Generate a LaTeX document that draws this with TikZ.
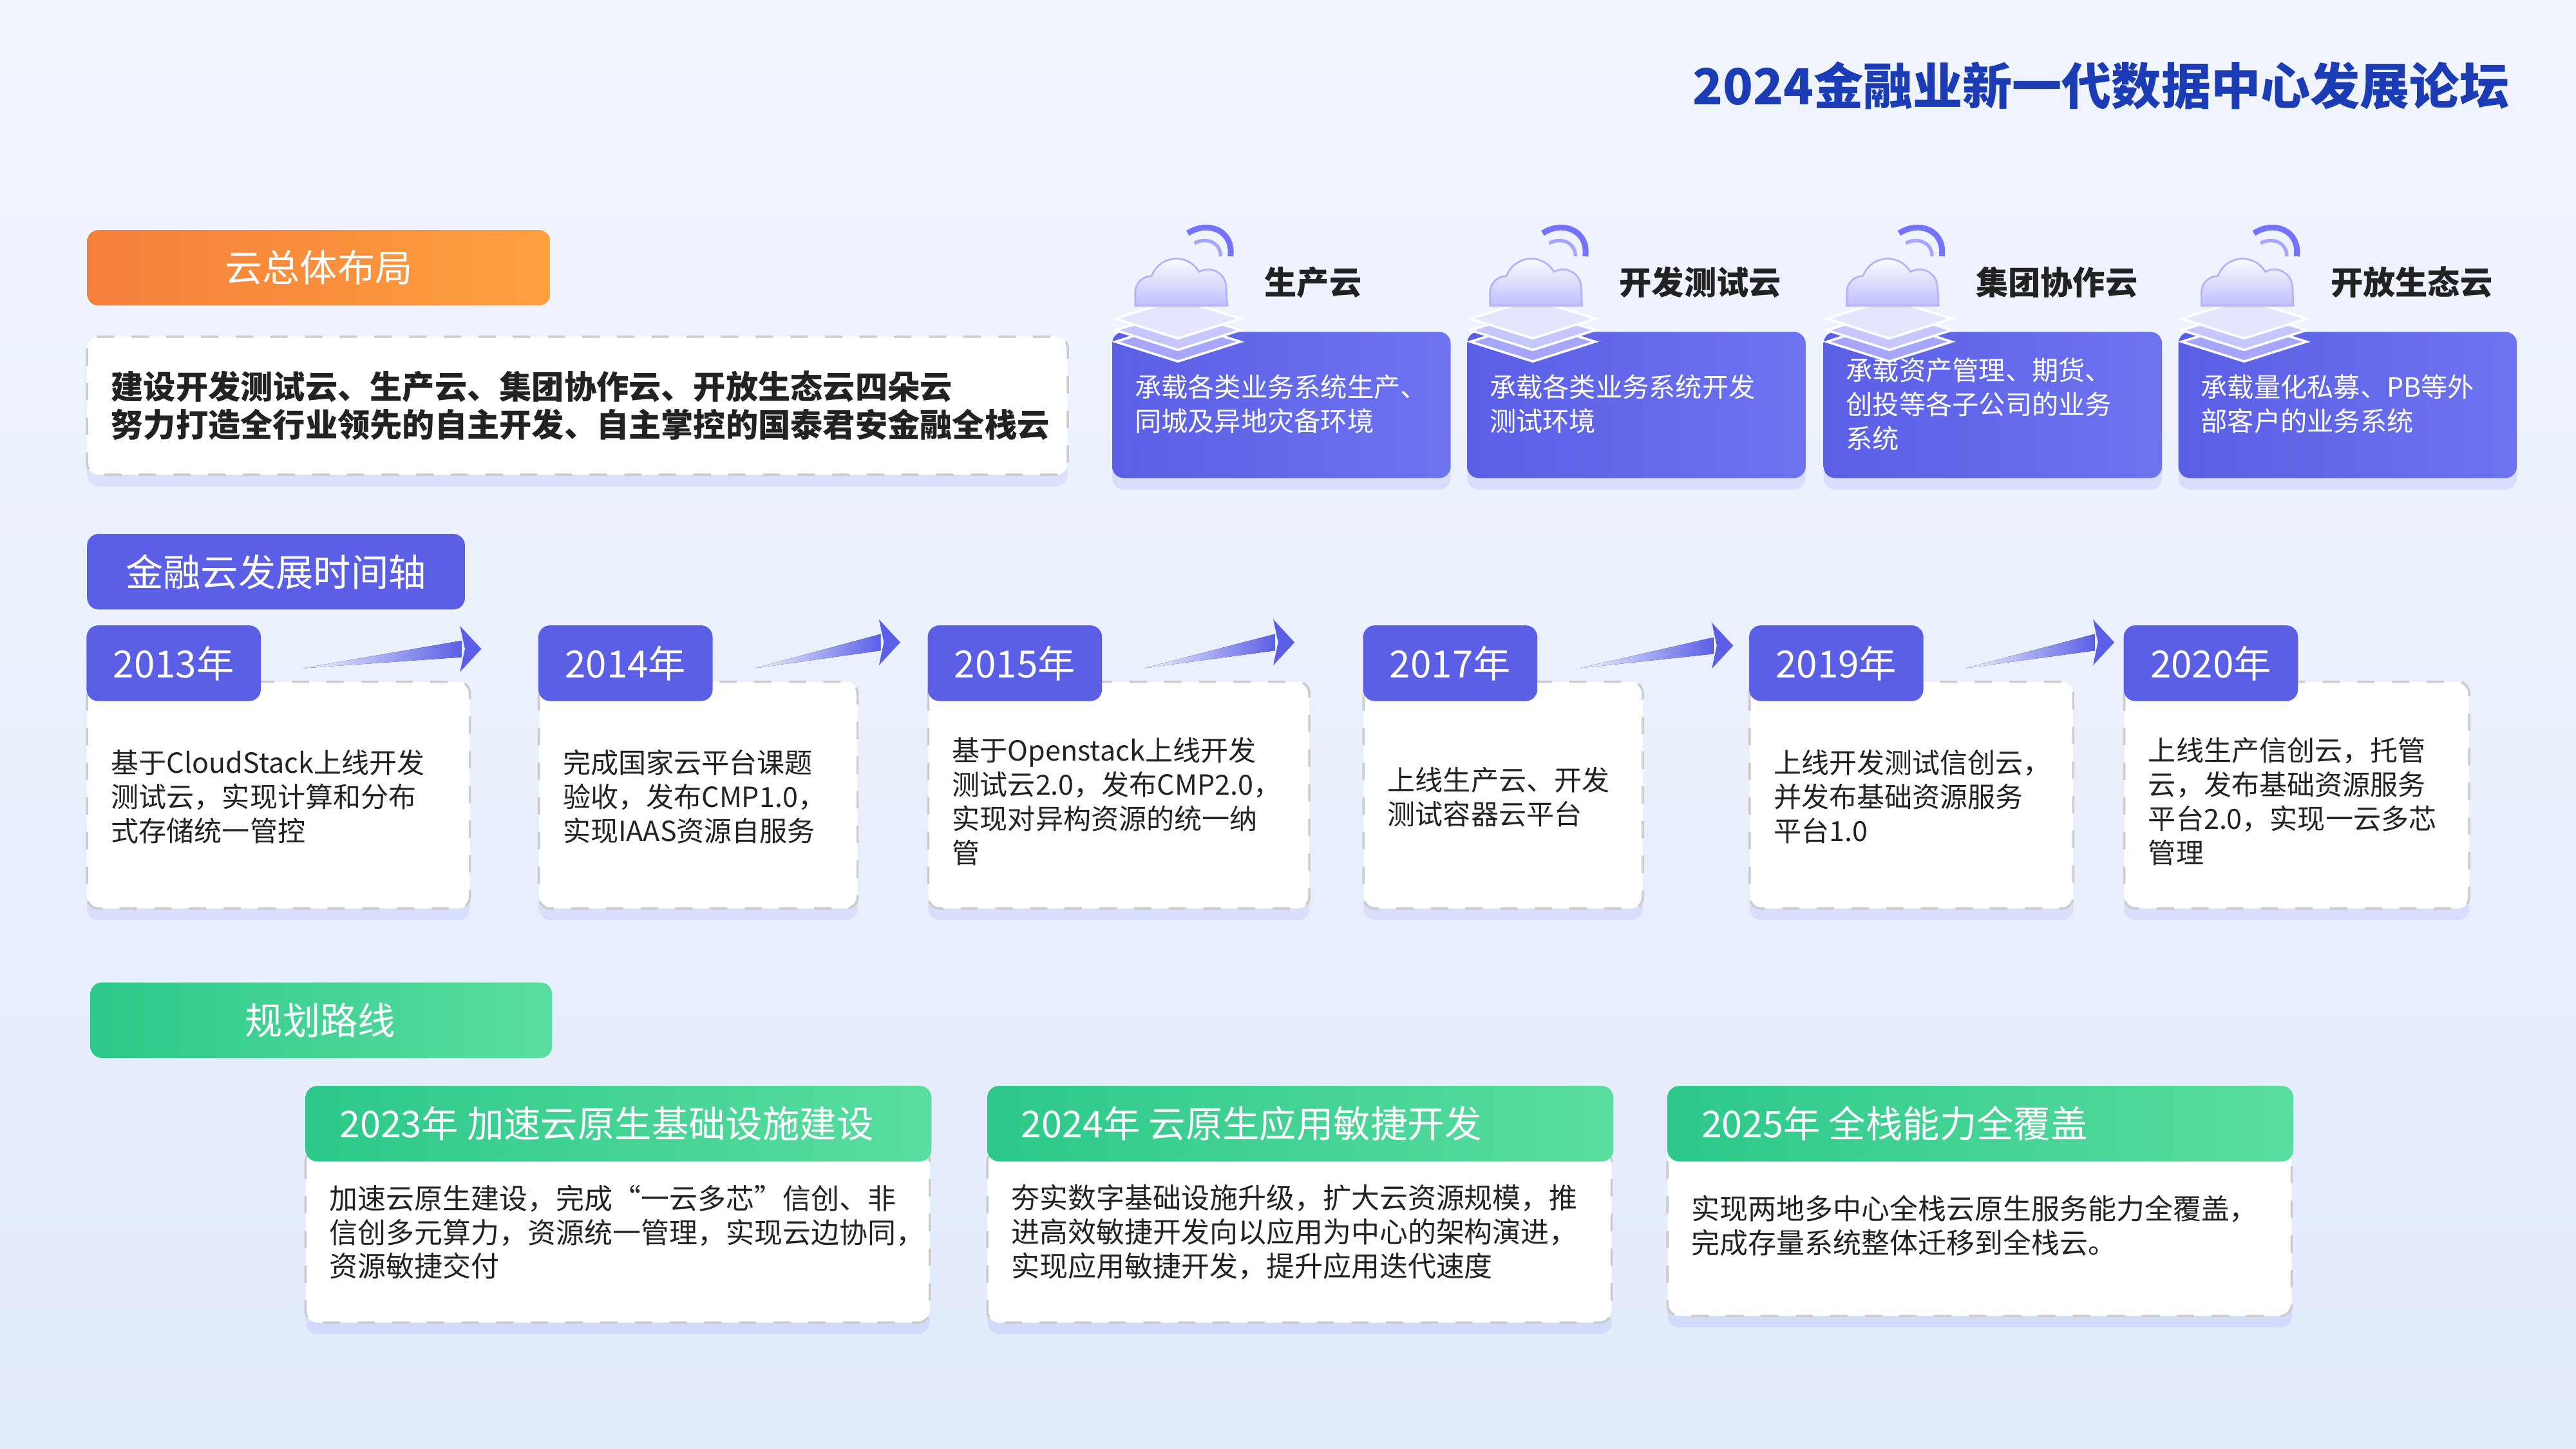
\documentclass[tikz,border=0pt]{standalone}
\usepackage{fontspec}
\setmainfont{Noto Sans CJK SC}
\usetikzlibrary{shadows,arrows.meta,calc}
\definecolor{bgA}{HTML}{F1F5FE}
\definecolor{bgB}{HTML}{E2EBFB}
\definecolor{ttl}{HTML}{1B3CB4}
\definecolor{pur}{HTML}{5A5FE6}
\definecolor{purB}{HTML}{6E73F0}
\definecolor{orA}{HTML}{F47F3A}
\definecolor{orB}{HTML}{FFA040}
\definecolor{grA}{HTML}{2DC98A}
\definecolor{grB}{HTML}{5ADDA0}
\definecolor{txt}{HTML}{222222}
\tikzset{
 px/.style={x=0.01cm,y=-0.01cm},
 card/.style={draw=gray!40,dashed,fill=white,rounded corners=2pt,drop shadow={opacity=0.12,fill=blue!60,shadow xshift=0pt,shadow yshift=-2pt}},
 yeartag/.style={fill=pur,rounded corners=2pt,text=white,font=\fontsize{6.5}{7}\selectfont,inner sep=0pt,minimum width=1.06cm,minimum height=0.46cm},
 body/.style={anchor=north west,align=left,text=txt,font=\fontsize{4.8}{6}\selectfont,inner sep=0pt},
 bluecard/.style={rounded corners=2pt,left color=pur,right color=purB,drop shadow={opacity=0.15,fill=blue!60,shadow xshift=0pt,shadow yshift=-2pt}},
 ctitle/.style={anchor=west,font=\bfseries\fontsize{5.6}{6}\selectfont,text=txt,inner sep=0pt},
 tagtxt/.style={text=white,font=\fontsize{6.5}{7}\selectfont,inner sep=0pt},
}
\newcommand{\cloudicon}[2]{%
 \begin{scope}[shift={(#1,#2)}]
  \foreach \d/\c in {18/blue!35,11/blue!22,4/blue!10}{
   \fill[\c,draw=white,line width=0.4pt] (2,62+\d) -- (40,50+\d) -- (78,62+\d) -- (40,74+\d) -- cycle;}
  \fill[top color=white,bottom color=blue!25,draw=blue!30,line width=0.3pt]
    (14,58) -- (14,50) arc[start angle=180,end angle=270,radius=10]
    arc[start angle=200,end angle=330,radius=16]
    arc[start angle=240,end angle=360,radius=11] -- (70,58) -- cycle;
  \draw[blue!55,line width=1pt] (46,14) .. controls (58,6) and (74,12) .. (72,28);
  \draw[blue!35,line width=0.6pt] (50,20) .. controls (58,16) and (66,20) .. (66,28);
 \end{scope}}
\begin{document}
\begin{tikzpicture}[px]
\useasboundingbox (0,0) rectangle (1568,882);
\shade[top color=bgA,bottom color=bgB] (0,0) rectangle (1568,882);
\node[anchor=east,text=ttl,font=\bfseries\fontsize{8.6}{9}\selectfont,inner sep=0pt] (title) at (1528,52) {2024金融业新一代数据中心发展论坛};
\path[left color=orA,right color=orB,rounded corners=2pt] (53,140) rectangle (335,186);
\node[tagtxt] (tag1) at (194,163) {云总体布局};
\path[card] (53,205) rectangle (650,289);
\node[anchor=west,align=left,text=txt,font=\bfseries\fontsize{5.6}{6.6}\selectfont,inner sep=0pt] (layout) at (67,247) {建设开发测试云、生产云、集团协作云、开放生态云四朵云\\努力打造全行业领先的自主开发、自主掌控的国泰君安金融全栈云};
\foreach \x/\t/\b [count=\i] in {
 677/生产云/{承载各类业务系统生产、\\同城及异地灾备环境},
 893/开发测试云/{承载各类业务系统开发\\测试环境},
 1110/集团协作云/{承载资产管理、期货、\\创投等各子公司的业务\\系统},
 1326/开放生态云/{承载量化私募、PB等外\\部客户的业务系统}}{
 \path[bluecard] (\x,202) rectangle (\x+206,291);
 \node[anchor=west,align=left,text=white,font=\fontsize{4.6}{5.9}\selectfont,inner sep=0pt] (cc\i) at (\x+13,246) {\b};
 \cloudicon{\x}{128}
 \node[ctitle] (ct\i) at (\x+92,172) {\t};
}
\path[fill=pur,rounded corners=2pt] (53,325) rectangle (283,371);
\node[tagtxt] (tag2) at (168,348) {金融云发展时间轴};
\foreach \x/\w/\y/\b [count=\i] in {
 53/233/2013/{基于CloudStack上线开发\\测试云，实现计算和分布\\式存储统一管控},
 328/194/2014/{完成国家云平台课题\\验收，发布CMP1.0，\\实现IAAS资源自服务},
 565/232/2015/{基于Openstack上线开发\\测试云2.0，发布CMP2.0，\\实现对异构资源的统一纳\\管},
 830/170/2017/{上线生产云、开发\\测试容器云平台},
 1065/197/2019/{上线开发测试信创云，\\并发布基础资源服务\\平台1.0},
 1293/210/2020/{上线生产信创云，托管\\云，发布基础资源服务\\平台2.0，实现一云多芯\\管理}}{
 \path[card] (\x,415) rectangle (\x+\w,553);
 \node[yeartag,anchor=north west] (y\i) at (\x-1,380) {\y 年};
 \node[body,anchor=west,font=\fontsize{4.8}{5.9}\selectfont] (t\i) at (\x+14,\ifnum\i=3 488\else\ifnum\i=6 488\else 485\fi\fi) {\b};
}
\coordinate (a1) at (293,395); \coordinate (a2) at (548,391); \coordinate (a3) at (788,391);
\coordinate (a4) at (1055,393); \coordinate (a5) at (1287,391);
\foreach \i in {1,...,5}{
 \fill[left color=white!0!bgA,right color=pur] ($(y\i.east)+(25,3)$) -- ($(a\i)+(-12,-5)$) -- ($(a\i)+(-12,5)$) -- cycle;
 \fill[pur] ($(a\i)+(-13,-14)$) -- (a\i) -- ($(a\i)+(-13,14)$) -- ($(a\i)+(-10,0)$) -- cycle;
}
\path[left color=grA,right color=grB,rounded corners=2pt] (55,598) rectangle (336,644);
\node[tagtxt] (tag3) at (195,621) {规划路线};
\foreach \x/\h/\b [count=\i] in {
 186/{2023年 加速云原生基础设施建设}/{加速云原生建设，完成“一云多芯”信创、非\\信创多元算力，资源统一管理，实现云边协同，\\资源敏捷交付},
 601/{2024年 云原生应用敏捷开发}/{夯实数字基础设施升级，扩大云资源规模，推\\进高效敏捷开发向以应用为中心的架构演进，\\实现应用敏捷开发，提升应用迭代速度},
 1015/{2025年 全栈能力全覆盖}/{实现两地多中心全栈云原生服务能力全覆盖，\\完成存量系统整体迁移到全栈云。}}{
 \path[card] (\x,700) rectangle (\x+380,\ifnum\i=3 801\else 805\fi);
 \path[left color=grA,right color=grB,rounded corners=2pt] (\x,661) rectangle (\x+381,707);
 \node[anchor=west,text=white,font=\fontsize{6.4}{7}\selectfont,inner sep=0pt] (ph\i) at (\x+20,684) {\h};
 \node[body,anchor=west,font=\fontsize{4.9}{5.9}\selectfont] (pb\i) at (\x+14,\ifnum\i=3 746\else 750\fi) {\b};
}
\end{tikzpicture}
\end{document}
